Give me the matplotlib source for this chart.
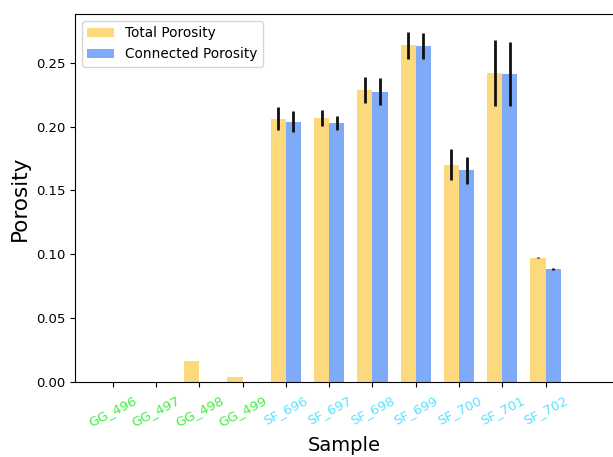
import matplotlib.pyplot as plt
import numpy as np

samples = ['GG_496', 'GG_497', 'GG_498', 'GG_499', 'SF_696', 'SF_697',
           'SF_698', 'SF_699', 'SF_700', 'SF_701', 'SF_702']

total_por = [0.0, 0.0, 0.0161, 0.0036, 0.2063, 0.2071, 0.2285, 0.2638, 0.1700, 0.2421, 0.0974]
total_err = [0.0, 0.0, 0.0, 0.0, 0.0089, 0.0063, 0.0102, 0.0107, 0.0121, 0.0257, 0.0005]

conn_por = [0.0, 0.0, 0.0, 0.0, 0.2040, 0.2027, 0.2273, 0.2630, 0.1658, 0.2411, 0.0886]
conn_err = [0.0, 0.0, 0.0, 0.0, 0.0080, 0.0057, 0.0106, 0.0103, 0.0108, 0.0253, 0.0005]

label_colors = ['#44ee44'] * 4 + ['#58e2ff'] * 7

x = np.arange(len(samples))
w = 0.35

fig = plt.figure(figsize=(6.13, 4.57), dpi=100)
# axes run a little past the right edge of the canvas
ax = fig.add_axes([75 / 613, 75 / 457, 539 / 613, 368 / 457])

ax.bar(x - w / 2, total_por, w, yerr=total_err, color='#fdd97d',
       error_kw=dict(ecolor='#111111', elinewidth=2, capsize=0), label='Total Porosity')
ax.bar(x + w / 2, conn_por, w, yerr=conn_err, color='#7eaaf8',
       error_kw=dict(ecolor='#111111', elinewidth=2, capsize=0), label='Connected Porosity')

ax.set_xticks(x)
ax.set_xticklabels(samples, rotation=27, ha='center', fontsize=9.5)
for lbl, c in zip(ax.get_xticklabels(), label_colors):
    lbl.set_color(c)
ax.tick_params(axis='x', pad=5)
ax.tick_params(axis='y', labelsize=9.5)

ax.set_xlim(-0.87, 11.58)
ax.set_ylabel('Porosity', fontsize=15.5)
ax.set_xlabel('Sample', fontsize=14, labelpad=5)
ax.legend(loc='upper left', fontsize=9.8)

fig.savefig('out.png', dpi=100)
